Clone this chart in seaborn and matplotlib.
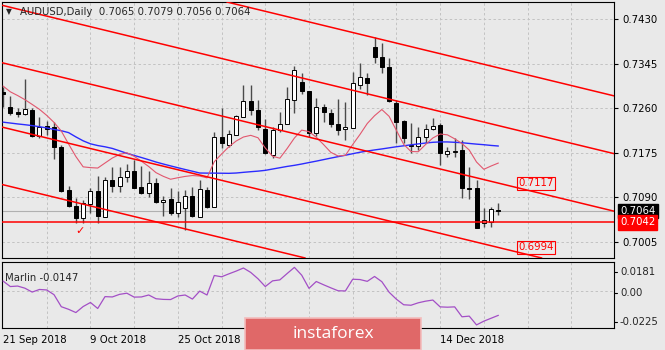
import matplotlib
matplotlib.use("Agg")
import matplotlib.pyplot as plt
import matplotlib.transforms as mtransforms
from matplotlib.patches import Rectangle
import numpy as np
import pandas as pd
import seaborn as sns

# ---- AUDUSD daily candles (open, high, low, close) ----
opens = [0.7291, 0.7262, 0.7253, 0.7249, 0.7257, 0.7207, 0.7226, 0.7224, 0.7186, 0.7104,
         0.7073, 0.7050, 0.7077, 0.7102, 0.7052, 0.7123, 0.7111, 0.7129, 0.7140, 0.7110,
         0.7098, 0.7117, 0.7081, 0.7087, 0.7060, 0.7069, 0.7092, 0.7052, 0.7104, 0.7071,
         0.7205, 0.7190, 0.7209, 0.7243, 0.7274, 0.7257, 0.7220, 0.7171, 0.7218, 0.7230,
         0.7276, 0.7310, 0.7293, 0.7213, 0.7262, 0.7251, 0.7230, 0.7220, 0.7222, 0.7304,
         0.7318, 0.7377, 0.7358, 0.7339, 0.7270, 0.7236, 0.7187, 0.7188, 0.7205, 0.7220,
         0.7228, 0.7173, 0.7177, 0.7180, 0.7107, 0.7108, 0.7041, 0.7043, 0.7065]
highs = [0.7301, 0.7283, 0.7260, 0.7316, 0.7260, 0.7243, 0.7236, 0.7234, 0.7190, 0.7111,
         0.7089, 0.7085, 0.7107, 0.7131, 0.7129, 0.7148, 0.7148, 0.7153, 0.7161, 0.7150,
         0.7140, 0.7127, 0.7092, 0.7107, 0.7102, 0.7104, 0.7110, 0.7123, 0.7110, 0.7215,
         0.7260, 0.7219, 0.7247, 0.7304, 0.7304, 0.7276, 0.7239, 0.7224, 0.7253, 0.7301,
         0.7341, 0.7327, 0.7293, 0.7280, 0.7268, 0.7259, 0.7278, 0.7272, 0.7329, 0.7347,
         0.7327, 0.7396, 0.7385, 0.7356, 0.7276, 0.7238, 0.7232, 0.7224, 0.7230, 0.7241,
         0.7232, 0.7186, 0.7203, 0.7199, 0.7148, 0.7123, 0.7069, 0.7071, 0.7079]
lows = [0.7262, 0.7247, 0.7243, 0.7247, 0.7205, 0.7203, 0.7209, 0.7163, 0.7100, 0.7071,
        0.7041, 0.7041, 0.7060, 0.7041, 0.7052, 0.7100, 0.7100, 0.7119, 0.7108, 0.7096,
        0.7090, 0.7079, 0.7054, 0.7056, 0.7052, 0.7027, 0.7052, 0.7052, 0.7069, 0.7071,
        0.7184, 0.7186, 0.7209, 0.7243, 0.7247, 0.7218, 0.7173, 0.7165, 0.7215, 0.7230,
        0.7251, 0.7287, 0.7205, 0.7207, 0.7234, 0.7224, 0.7209, 0.7199, 0.7222, 0.7297,
        0.7285, 0.7347, 0.7327, 0.7272, 0.7194, 0.7194, 0.7174, 0.7180, 0.7194, 0.7218,
        0.7152, 0.7167, 0.7167, 0.7089, 0.7087, 0.7031, 0.7033, 0.7033, 0.7056]
closes = [0.7287, 0.7251, 0.7250, 0.7259, 0.7207, 0.7224, 0.7220, 0.7186, 0.7102, 0.7073,
          0.7050, 0.7079, 0.7102, 0.7054, 0.7123, 0.7111, 0.7129, 0.7140, 0.7108, 0.7098,
          0.7117, 0.7081, 0.7085, 0.7060, 0.7081, 0.7092, 0.7054, 0.7106, 0.7071, 0.7205,
          0.7194, 0.7211, 0.7245, 0.7274, 0.7257, 0.7224, 0.7174, 0.7218, 0.7230, 0.7278,
          0.7333, 0.7293, 0.7213, 0.7262, 0.7253, 0.7230, 0.7218, 0.7224, 0.7308, 0.7320,
          0.7308, 0.7358, 0.7339, 0.7274, 0.7234, 0.7203, 0.7190, 0.7205, 0.7220, 0.7226,
          0.7174, 0.7178, 0.7178, 0.7108, 0.7106, 0.7031, 0.7046, 0.7068, 0.7064]

# ---- indicator values per bar ----
ma_fast = [0.73025, 0.72915, 0.72844, 0.72765, 0.72674, 0.72580, 0.72464, 0.72330, 0.72165, 0.71917,
           0.71678, 0.71481, 0.71466, 0.71458, 0.71554, 0.71649, 0.71718, 0.71751, 0.71682, 0.71588,
           0.71487, 0.71370, 0.71300, 0.71244, 0.71273, 0.71298, 0.71315, 0.71305, 0.71271, 0.71579,
           0.71726, 0.71864, 0.71974, 0.72051, 0.72083, 0.72037, 0.71841, 0.71684, 0.71646, 0.71831,
           0.72032, 0.72183, 0.72154, 0.72047, 0.71907, 0.71758, 0.71688, 0.71701, 0.71907, 0.72100,
           0.72309, 0.72458, 0.72576, 0.72446, 0.72177, 0.71911, 0.71774, 0.71770, 0.71907, 0.72032,
           0.72108, 0.72093, 0.72016, 0.71927, 0.71802, 0.71573, 0.71434, 0.71497, 0.71554]
ma_slow = [0.72335, 0.72318, 0.72301, 0.72286, 0.72269, 0.72248, 0.72225, 0.72196, 0.72171, 0.72135,
           0.72053, 0.71978, 0.71921, 0.71888, 0.71864, 0.71833, 0.71787, 0.71739, 0.71699, 0.71659,
           0.71617, 0.71573, 0.71535, 0.71499, 0.71464, 0.71430, 0.71397, 0.71363, 0.71361, 0.71361,
           0.71359, 0.71357, 0.71363, 0.71376, 0.71388, 0.71399, 0.71414, 0.71439, 0.71464, 0.71489,
           0.71510, 0.71535, 0.71563, 0.71590, 0.71619, 0.71648, 0.71676, 0.71703, 0.71732, 0.71760,
           0.71783, 0.71804, 0.71823, 0.71844, 0.71865, 0.71883, 0.71902, 0.71919, 0.71936, 0.71950,
           0.71957, 0.71957, 0.71950, 0.71942, 0.71928, 0.71915, 0.71904, 0.71890, 0.71879]
marlin = [0.0064, 0.0030, 0.0033, 0.0020, -0.0004, 0.0012, 0.0009, -0.0020, -0.0094, -0.0110,
          -0.0130, -0.0093, -0.0068, -0.0105, -0.0032, -0.0034, -0.0018, -0.0011, -0.0035, -0.0034,
          -0.0022, -0.0045, -0.0049, -0.0050, -0.0028, -0.0022, -0.0047, 0.0002, -0.0022, 0.0098,
          0.0090, 0.0108, 0.0125, 0.0144, 0.0117, 0.0078, 0.0030, 0.0065, 0.0071, 0.0110,
          0.0148, 0.0100, 0.0019, 0.0061, 0.0041, 0.0022, 0.0004, 0.0003, 0.0075, 0.0073,
          0.0062, 0.0092, 0.0060, -0.0005, -0.0048, -0.0082, -0.0085, -0.0070, -0.0060, -0.0053,
          -0.0095, -0.0097, -0.0095, -0.0156, -0.0152, -0.0206, -0.0183, -0.0165, -0.0147]

# ---- descending channel lines: price at the first bar and at the last bar ----
channel_first = [0.75668, 0.74564, 0.73466, 0.72236, 0.71139]
channel_last = [0.73373, 0.72269, 0.71170, 0.69940, 0.68844]
channel_tags = [None, None, "0.7117", "0.6994", None]

support_level = 0.7042
last_price = 0.7064

price_ticks = [0.7430, 0.7345, 0.7260, 0.7175, 0.7090, 0.7005]
date_ticks = [0, 12, 24, 60]
date_labels = ["21 Sep 2018", "9 Oct 2018", "25 Oct 2018", "14 Dec 2018"]
marlin_labels = ["0.0181", "0.00", "-0.0225"]

title = "AUDUSD,Daily  0.7065 0.7079 0.7056 0.7064"
marlin_title = "Marlin -0.0147"

# ---------------------------------------------------------------
BG = "#e9e9e9"
GRID = "#c2c2c2"
FS = 7.3

sns.set_style("white")
plt.rcParams["font.family"] = ["DejaVu Sans"]

n = len(closes)
bars = np.arange(n)
df = pd.DataFrame({"bar": bars, "open": opens, "high": highs, "low": lows,
                   "close": closes, "fast": ma_fast, "slow": ma_slow, "marlin": marlin})

W, H = 665, 350
fig = plt.figure(figsize=(W / 100, H / 100), dpi=100, facecolor=BG)


def px_box(x0, y0, x1, y1):
    return [x0 / W, 1 - y1 / H, (x1 - x0) / W, (y1 - y0) / H]


ax = fig.add_axes(px_box(2, 2, 614, 258))
ax2 = fig.add_axes(px_box(2, 262, 614, 328))
x_lim = (-0.14, 83.87)

for a in (ax, ax2):
    a.set_facecolor(BG)
    for sp in a.spines.values():
        sp.set_color("black")
        sp.set_linewidth(0.8)
    a.set_xlim(*x_lim)
    for b in range(6, 84, 6):
        a.axvline(b, color=GRID, lw=0.7, ls=(0, (2.5, 2.5)), zorder=0.5)

# ---- main price panel ----
ax.set_ylim(0.69739, 0.74631)
for p in price_ticks:
    ax.axhline(p, color=GRID, lw=0.7, ls=(0, (2.5, 2.5)), zorder=0.5)

ax.axhline(last_price, color="#b0b0b0", lw=0.8, zorder=1)

up = df["close"] >= df["open"]
ax.vlines(df["bar"], df["low"], df["high"], color="#4a4a4a", lw=1.0, zorder=2)
ax.bar(df["bar"], (df["close"] - df["open"]).abs(),
       bottom=np.minimum(df["open"], df["close"]), width=0.55,
       color=np.where(up, "white", "black"), edgecolor="black", linewidth=0.7, zorder=3)

sns.lineplot(data=df, x="bar", y="slow", ax=ax, color="#2b2bff", lw=1.0, zorder=4)
sns.lineplot(data=df, x="bar", y="fast", ax=ax, color="#e2576e", lw=0.8, zorder=4)

last_bar = n - 1
tag_bar = 70.7
for s, e, tag in zip(channel_first, channel_last, channel_tags):
    ax.axline((0, s), (last_bar, e), color="#ff0000", lw=1.1, zorder=5)
    if tag:
        ax.text(tag_bar, float(tag), tag, color="#ff0000", fontsize=FS, ha="left", va="center",
                zorder=6, bbox=dict(boxstyle="square,pad=0.15", fc="none", ec="#ff0000", lw=0.8))

ax.axhline(support_level, color="#ff0000", lw=1.1, zorder=5)
ax.text(10.6, 0.7026, "\u2713", color="#ff0000", fontsize=8, ha="center", va="center", zorder=6)

ax.set_xlabel("")
ax.set_ylabel("")
ax.tick_params(axis="x", bottom=False, labelbottom=False)
ax.yaxis.tick_right()
ax.set_yticks(price_ticks)
ax.set_yticklabels([f"{p:.4f}" for p in price_ticks])
ax.tick_params(axis="y", length=3, width=0.8, pad=3, labelsize=FS, colors="black")

yblend = mtransforms.blended_transform_factory(ax.transAxes, ax.transData)
ax.text(1.0098, last_price, f"{last_price:.4f}", transform=yblend, color="white", fontsize=FS,
        ha="left", va="center", clip_on=False, zorder=7,
        bbox=dict(boxstyle="square,pad=0.22", fc="black", ec="black"))
ax.text(1.0098, support_level, f"{support_level:.4f}", transform=yblend, color="white", fontsize=FS,
        ha="left", va="center", clip_on=False, zorder=8,
        bbox=dict(boxstyle="square,pad=0.22", fc="#ff0000", ec="#ff0000"))

ax.text(0.0065, 0.961, "\u25bc", transform=ax.transAxes, fontsize=5.5, ha="left", va="center", zorder=9)
ax.text(0.0294, 0.961, title, transform=ax.transAxes, fontsize=FS, ha="left", va="center", zorder=9)

# ---- Marlin oscillator panel ----
ax2.set_ylim(-0.0225, 0.0181)
ax2.axhline(0, color=GRID, lw=0.7, ls=(0, (2.5, 2.5)), zorder=0.5)
sns.lineplot(data=df, x="bar", y="marlin", ax=ax2, color="#a34fc6", lw=0.9, zorder=4)
ax2.set_xlabel("")
ax2.set_ylabel("")
ax2.set_yticks([])
for frac, lab in zip([0.855, 0.53, 0.098], marlin_labels):
    ax2.plot([1, 1 + 3 / 612], [frac, frac], transform=ax2.transAxes, color="black",
             lw=0.8, clip_on=False)
    ax2.text(1.0098, frac, lab, transform=ax2.transAxes, fontsize=FS, ha="left", va="center")
ax2.text(0.005, 0.758, marlin_title, transform=ax2.transAxes, fontsize=FS, ha="left", va="center")

ax2.set_xticks(date_ticks)
ax2.set_xticklabels(date_labels)
for lab in ax2.get_xticklabels():
    lab.set_horizontalalignment("left")
ax2.tick_params(axis="x", length=3, width=0.8, pad=2, labelsize=FS, colors="black")

# ---- watermark ----
fig.patches.append(Rectangle((245 / W, 0), 176 / W, 32 / H, transform=fig.transFigure,
                             fc="#e06868", ec="#f3bcbc", lw=1.2, zorder=10))
fig.text(333 / W, 16 / H, "instaforex", color="white", fontsize=12.5, ha="center", va="center",
         zorder=11, family=["Open Sans", "DejaVu Sans"])

fig.savefig("out.png", dpi=100, facecolor=BG)
